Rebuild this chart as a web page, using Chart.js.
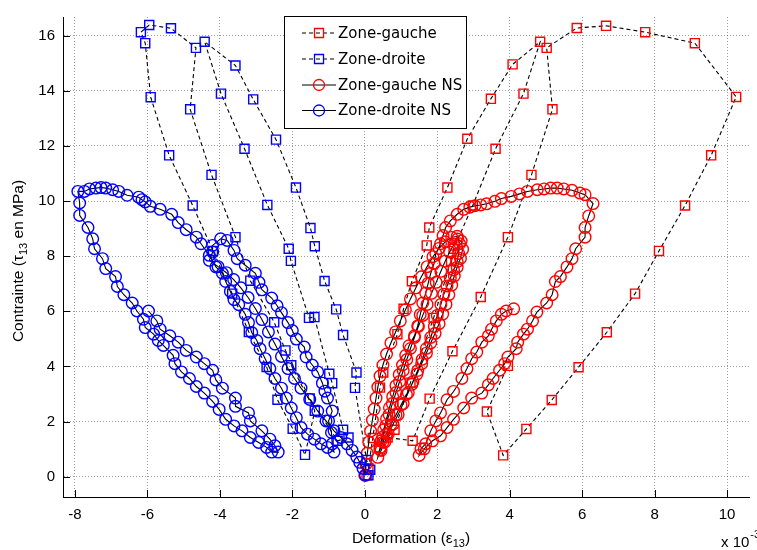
<!DOCTYPE html>
<html><head><meta charset="utf-8">
<script src="https://cdn.jsdelivr.net/npm/chart.js@4/dist/chart.umd.min.js"></script>
<style>html,body{margin:0;padding:0;background:#fff;overflow:hidden}#wrap{width:757px;height:550px;position:relative}</style>
</head><body><div id="wrap"><canvas id="c" width="757" height="550"></canvas></div>
<script>
const seriesNames = ['Zone-gauche', 'Zone-droite', 'Zone-gauche NS', 'Zone-droite NS'];
const xTicks = [-8, -6, -4, -2, 0, 2, 4, 6, 8, 10];
const yTicks = [0, 2, 4, 6, 8, 10, 12, 14, 16];
const xTitle = ['Deformation (\u03b5', '13', ')'];
const yTitle = ['Contrainte (\u03c4', '13', ' en MPa)'];
const xMultiplier = ['x 10', '-3'];

// Zone-gauche (red squares), [strain x1e-3, stress MPa]
const zoneGauche = [
 [0.05,0.05],[0.10,0.30],[0.22,1.40],[0.42,3.23],[0.51,3.78],[0.90,5.17],[1.07,6.09],[1.30,7.09],[1.71,8.39],[1.78,9.04],
 [2.28,10.49],[2.83,12.26],[3.48,13.71],[4.08,14.96],[4.84,15.78],[4.38,13.90],[3.61,11.90],[2.98,9.84],[2.45,8.27],[2.38,7.83],
 [1.90,5.76],[1.26,3.41],[0.82,1.70],[0.63,1.42],[1.32,1.30],[1.79,2.83],[2.42,4.55],[3.20,6.52],[3.95,8.69],[4.60,10.95],
 [5.18,13.33],[5.02,15.56],[5.85,16.28],[6.66,16.36],[7.74,16.13],[9.11,15.73],[10.25,13.78],[9.56,11.66],[8.84,9.84],[8.12,8.19],
 [7.46,6.64],[6.68,5.24],[5.90,3.97],[5.16,2.78],[4.46,1.73],[3.82,0.77],[3.37,2.36],[3.95,4.02]
];
// Zone-droite (blue squares)
const zoneDroite = [
 [0.10,0.05],[0.15,0.25],[0.05,0.60],[-0.27,3.22],[-0.23,3.78],[-0.60,5.14],[-0.79,6.07],[-1.11,7.10],[-1.38,8.36],[-1.50,9.02],
 [-1.90,10.49],[-2.45,12.23],[-3.08,13.69],[-3.57,14.92],[-4.42,15.78],[-3.97,13.90],[-3.32,11.90],[-2.69,9.86],[-2.10,8.27],[-2.04,7.83],
 [-1.54,5.76],[-1.39,5.79],[-0.98,3.73],[-0.90,3.39],[-0.60,1.70],[-0.45,1.42],[-0.75,1.30],[-1.52,2.84],[-2.19,4.58],[-2.50,5.60],
 [-3.16,7.11],[-3.57,8.69],[-4.23,10.95],[-4.82,13.33],[-4.66,15.56],[-5.35,16.27],[-5.95,16.39],[-6.18,16.13],[-6.06,15.73],[-5.91,13.77],
 [-5.40,11.66],[-4.75,9.84],[-4.19,8.19],[-3.66,6.64],[-3.20,5.25],[-2.71,3.98],[-2.41,2.79],[-1.99,1.74],[-1.65,0.79],[-1.38,2.39],[-2.03,4.04]
];
// Zone-gauche NS (red circles)
const zoneGaucheNS = [
 [0.00,0.05],[0.03,0.45],[0.07,0.85],[0.11,1.25],[0.16,1.65],[0.21,2.05],[0.26,2.45],[0.31,2.85],[0.36,3.25],[0.42,3.65],
 [0.50,4.05],[0.60,4.45],[0.72,4.85],[0.85,5.25],[0.98,5.65],[1.12,6.05],[1.26,6.45],[1.41,6.85],[1.56,7.25],[1.72,7.62],
 [1.88,7.98],[2.05,8.28],[2.22,8.52],[2.40,8.68],[2.55,8.72],
 [2.62,8.45],[2.59,8.10],[2.55,7.80],[2.45,7.50],[2.36,7.20],[2.27,6.92],[2.18,6.62],[2.10,6.25],[2.00,5.85],[1.92,5.45],
 [1.82,5.05],[1.70,4.65],[1.58,4.25],[1.46,3.85],[1.33,3.45],[1.20,3.05],[1.06,2.65],[0.92,2.25],[0.78,1.90],[0.65,1.55],
 [0.55,1.25],[0.45,0.95],[0.36,0.70],
 [0.42,1.05],[0.50,1.45],[0.58,1.85],[0.67,2.25],[0.76,2.65],[0.86,3.05],[0.96,3.45],[1.06,3.85],[1.16,4.25],[1.26,4.65],
 [1.37,5.05],[1.48,5.45],[1.60,5.85],[1.72,6.25],[1.84,6.65],[1.97,7.05],[2.10,7.45],[2.22,7.82],[2.34,8.15],[2.46,8.42],
 [2.56,8.62],[2.66,8.55],
 [2.70,8.25],[2.64,7.92],[2.55,7.60],[2.47,7.28],[2.40,6.95],[2.32,6.60],[2.24,6.25],[2.15,5.90],[2.05,5.55],[1.94,5.20],
 [1.82,4.85],[1.70,4.48],[1.57,4.10],[1.44,3.72],[1.30,3.35],[1.15,2.98],[1.00,2.60],[0.86,2.24],[0.72,1.88],[0.60,1.55],
 [0.50,1.25],[0.42,0.98],
 [0.45,1.30],[0.52,1.70],[0.60,2.10],[0.68,2.50],[0.77,2.90],[0.86,3.30],[0.95,3.70],[1.04,4.05],[1.13,4.40],[1.22,4.75],
 [1.37,5.11],[1.46,5.47],[1.53,5.88],[1.60,6.30],[1.68,6.66],[1.75,7.02],[1.82,7.38],[1.91,7.73],[1.96,8.09],[2.09,8.45],
 [2.16,8.75],[2.23,9.04],[2.36,9.28],[2.55,9.52],[2.73,9.70],[2.90,9.78],[3.04,9.83],[3.20,9.86],[3.36,9.90],[3.59,9.99],
 [3.77,10.09],[4.04,10.17],[4.27,10.26],[4.49,10.35],[4.76,10.41],[4.95,10.44],[5.13,10.47],[5.31,10.47],[5.49,10.44],[5.72,10.39],
 [5.94,10.29],[6.08,10.23],[6.30,9.91],
 [6.18,9.46],[6.08,9.04],[6.08,8.69],[5.82,8.27],[5.72,7.91],[5.58,7.61],[5.40,7.26],[5.26,7.08],[5.17,6.60],[5.02,6.30],
 [4.75,5.97],[4.63,5.65],[4.49,5.35],[4.38,5.17],[4.22,4.88],[4.18,4.64],[3.95,4.34],[3.86,4.10],[3.72,3.86],[3.54,3.56],
 [3.41,3.33],[3.23,3.03],[2.95,2.85],[2.73,2.49],[2.45,2.08],[2.27,1.78],[2.09,1.48],[1.87,1.30],[1.64,1.01],[1.50,0.77],
 [1.55,1.01],[1.68,1.19],[1.82,1.66],[1.96,2.02],[2.09,2.31],[2.27,2.79],[2.45,3.09],[2.68,3.56],[2.82,3.92],[2.95,4.28],
 [3.09,4.52],[3.23,4.88],[3.41,5.11],[3.50,5.35],[3.63,5.65],[3.77,5.89],[3.90,6.01],[4.11,6.09]
];
// Zone-droite NS (blue circles)
const zoneDroiteNS = [
 [0.02,0.05],[-0.05,0.30],[-0.14,0.52],[-0.22,0.71],[-0.35,0.95],[-0.49,1.19],[-0.66,1.42],[-0.85,1.66],[-1.07,2.02],[-1.30,2.38],
 [-1.52,2.80],[-1.76,3.21],[-1.94,3.56],[-2.12,3.92],[-2.30,4.36],[-2.48,4.81],[-2.66,5.25],[-2.84,5.70],[-3.02,6.10],[-3.22,6.50],
 [-3.42,6.85],[-3.62,7.15],[-3.82,7.40],[-4.05,7.62],[-4.29,7.85],[-4.20,8.15],[-4.20,8.39],[-3.98,8.63],
 [-3.80,8.57],[-3.61,8.21],[-3.52,7.91],[-3.30,7.67],[-3.02,7.38],[-2.92,7.05],[-2.84,6.78],[-2.57,6.48],[-2.42,6.20],[-2.30,5.95],
 [-2.12,5.59],[-2.00,5.30],[-1.89,4.99],[-1.67,4.70],[-1.62,4.34],[-1.45,4.05],[-1.30,3.80],[-1.17,3.39],[-1.10,3.10],[-1.03,2.85],
 [-0.90,2.38],[-1.00,2.02],[-0.92,1.60],[-0.90,1.19],[-0.85,0.89],
 [-1.03,1.06],[-1.21,1.19],[-1.39,1.36],[-1.58,1.54],[-1.76,1.78],[-1.89,2.14],[-2.03,2.49],[-2.17,2.85],[-2.30,3.21],[-2.48,3.56],
 [-2.62,3.92],[-2.75,4.28],[-2.89,4.64],[-2.98,4.94],[-3.12,5.23],[-3.21,5.59],[-3.30,5.89],[-3.48,6.24],[-3.61,6.42],[-3.71,6.72],
 [-3.84,7.08],[-3.93,7.38],[-4.11,7.61],[-4.29,8.03],[-4.52,8.45],[-4.65,8.69],[-4.93,8.96],[-5.15,9.22],[-5.33,9.52],[-5.65,9.70],
 [-5.92,9.81],[-6.06,9.97],[-6.15,10.05],[-6.24,10.14],[-6.56,10.21],[-6.79,10.35],[-6.96,10.41],[-7.15,10.47],[-7.28,10.49],[-7.42,10.47],
 [-7.60,10.44],[-7.74,10.35],[-7.92,10.35],
 [-7.87,9.93],[-7.87,9.48],[-7.64,9.04],[-7.51,8.63],[-7.46,8.27],[-7.24,7.91],[-7.15,7.55],[-6.88,7.26],[-6.83,6.90],[-6.65,6.60],
 [-6.42,6.30],[-6.29,6.01],[-6.11,5.71],[-6.06,5.41],[-5.83,5.17],[-5.70,4.94],[-5.56,4.76],[-5.29,4.40],[-5.24,4.10],[-5.06,3.80],
 [-4.84,3.56],[-4.65,3.27],[-4.43,3.03],[-4.20,2.73],[-4.02,2.44],[-3.84,2.08],[-3.61,1.84],[-3.39,1.66],[-3.16,1.42],[-2.93,1.24],
 [-2.71,1.06],[-2.57,0.89],
 [-2.39,0.89],[-2.48,1.12],[-2.62,1.36],[-2.84,1.66],[-3.16,2.02],[-3.21,2.31],[-3.57,2.55],[-3.57,2.85],[-3.93,3.21],[-4.11,3.51],
 [-4.20,3.86],[-4.43,4.10],[-4.65,4.34],[-4.93,4.58],[-5.15,4.88],[-5.38,5.11],[-5.65,5.35],[-5.74,5.65],[-5.97,6.01]
];

const FONT = "'Liberation Sans', Arial, Helvetica, sans-serif";
const LEG_FONT = "'DejaVu Sans', sans-serif";
const RED = '#ff0000', BLUE = '#0000ff';

function makeSet(label, pts, color, style, dashed, order) {
  return {
    label: label,
    data: pts.map(p => ({x: p[0], y: p[1]})),
    showLine: true,
    borderColor: '#000',
    borderWidth: 1.1,
    borderDash: dashed ? [4, 3] : [],
    pointStyle: style,
    pointRadius: style === 'rect' ? 6.4 : 5.8,
    pointHoverRadius: style === 'rect' ? 6.4 : 5.8,
    pointBorderColor: color,
    pointBackgroundColor: 'rgba(0,0,0,0)',
    pointBorderWidth: 1.4,
    tension: 0,
    order: order,
    clip: false
  };
}

const sets = [
  makeSet(seriesNames[0], zoneGauche, RED, 'rect', true, 3),
  makeSet(seriesNames[1], zoneDroite, BLUE, 'rect', true, 2),
  makeSet(seriesNames[2], zoneGaucheNS, RED, 'circle', false, 1),
  makeSet(seriesNames[3], zoneDroiteNS, BLUE, 'circle', false, 0)
];
const legendStyle = [
  {color: RED, style: 'rect', dashed: true},
  {color: BLUE, style: 'rect', dashed: true},
  {color: RED, style: 'circle', dashed: false},
  {color: BLUE, style: 'circle', dashed: false}
];

const extras = {
  id: 'extras',
  afterDraw(chart) {
    const ctx = chart.ctx, a = chart.chartArea;
    const xs = chart.scales.x, ys = chart.scales.y;
    ctx.save();
    // inward tick marks
    ctx.strokeStyle = '#000'; ctx.lineWidth = 1; ctx.setLineDash([]);
    ctx.beginPath();
    xTicks.forEach(v => { const px = Math.round(xs.getPixelForValue(v)) + 0.5; ctx.moveTo(px, a.bottom); ctx.lineTo(px, a.bottom - 7); });
    yTicks.forEach(v => { const py = Math.round(ys.getPixelForValue(v)) + 0.5; ctx.moveTo(a.left, py); ctx.lineTo(a.left + 7, py); });
    ctx.stroke();
    ctx.fillStyle = '#000';
    // x title with subscript
    const big = '15.5px ' + FONT, small = '11px ' + FONT;
    ctx.textBaseline = 'alphabetic'; ctx.textAlign = 'left';
    ctx.font = big; const w1 = ctx.measureText(xTitle[0]).width, w3 = ctx.measureText(xTitle[2]).width;
    ctx.font = small; const w2 = ctx.measureText(xTitle[1]).width;
    let x0 = (a.left + 759) / 2 - (w1 + w2 + w3) / 2, yb = 543;
    ctx.font = big; ctx.fillText(xTitle[0], x0, yb);
    ctx.font = small; ctx.fillText(xTitle[1], x0 + w1, yb + 4);
    ctx.font = big; ctx.fillText(xTitle[2], x0 + w1 + w2, yb);
    // y title rotated
    ctx.font = big; const v1 = ctx.measureText(yTitle[0]).width, v3 = ctx.measureText(yTitle[2]).width;
    ctx.font = small; const v2 = ctx.measureText(yTitle[1]).width;
    ctx.save();
    ctx.translate(23, (a.top + a.bottom) / 2 + 4);
    ctx.rotate(-Math.PI / 2);
    let s0 = -(v1 + v2 + v3) / 2;
    ctx.font = big; ctx.fillText(yTitle[0], s0, 0);
    ctx.font = small; ctx.fillText(yTitle[1], s0 + v1, 4);
    ctx.font = big; ctx.fillText(yTitle[2], s0 + v1 + v2, 0);
    ctx.restore();
    // x 10^-3
    ctx.font = '15px ' + FONT; ctx.fillText(xMultiplier[0], 721, 547);
    const wm = ctx.measureText(xMultiplier[0]).width;
    ctx.font = small; ctx.fillText(xMultiplier[1], 721 + wm + 1, 538);
    // legend
    const bx = 284.5, by = 16.5, bw = 182, bh = 112;
    ctx.fillStyle = '#fff'; ctx.fillRect(bx, by, bw, bh);
    ctx.strokeStyle = '#000'; ctx.lineWidth = 1; ctx.strokeRect(bx, by, bw, bh);
    const rows = [33, 59, 85, 110.5];
    ctx.font = '15px ' + LEG_FONT; ctx.textBaseline = 'middle';
    seriesNames.forEach((name, i) => {
      const y = rows[i], st = legendStyle[i];
      ctx.strokeStyle = '#000'; ctx.lineWidth = 1.1;
      ctx.setLineDash(st.dashed ? [4, 3] : []);
      ctx.beginPath(); ctx.moveTo(302, y); ctx.lineTo(336, y); ctx.stroke();
      ctx.setLineDash([]);
      ctx.strokeStyle = st.color; ctx.lineWidth = 1.3;
      ctx.beginPath();
      if (st.style === 'rect') ctx.rect(319 - 4.5, y - 4.5, 9, 9); else ctx.arc(319, y, 5.5, 0, Math.PI * 2);
      ctx.stroke();
      ctx.fillStyle = '#000';
      ctx.fillText(name, 338, y + 1);
    });
    ctx.restore();
  }
};

new Chart(document.getElementById('c'), {
  type: 'scatter',
  data: {datasets: sets},
  options: {
    responsive: false,
    devicePixelRatio: 1,
    animation: false,
    events: [],
    layout: {padding: {top: 10, right: 0, left: 0, bottom: 0}},
    plugins: {legend: {display: false}, tooltip: {enabled: false}},
    scales: {
      x: {
        type: 'linear', min: -8.33, max: 10.61,
        afterBuildTicks: s => { s.ticks = xTicks.map(v => ({value: v})); },
        afterFit: s => { s.height = 53; },
        grid: {color: 'rgba(0,0,0,0.38)', lineWidth: 1, drawTicks: false},
        border: {display: true, color: '#000', width: 1, dash: [1, 2]},
        ticks: {padding: 9, color: '#000', font: {family: FONT, size: 15}, maxRotation: 0, autoSkip: false}
      },
      y: {
        type: 'linear', min: -0.74, max: 16.68,
        afterBuildTicks: s => { s.ticks = yTicks.map(v => ({value: v})); },
        afterFit: s => { s.width = 63; },
        grid: {color: 'rgba(0,0,0,0.38)', lineWidth: 1, drawTicks: false},
        border: {display: true, color: '#000', width: 1, dash: [1, 2]},
        ticks: {padding: 8, color: '#000', font: {family: FONT, size: 15}, autoSkip: false}
      }
    }
  },
  plugins: [extras]
});
</script>
</body></html>
